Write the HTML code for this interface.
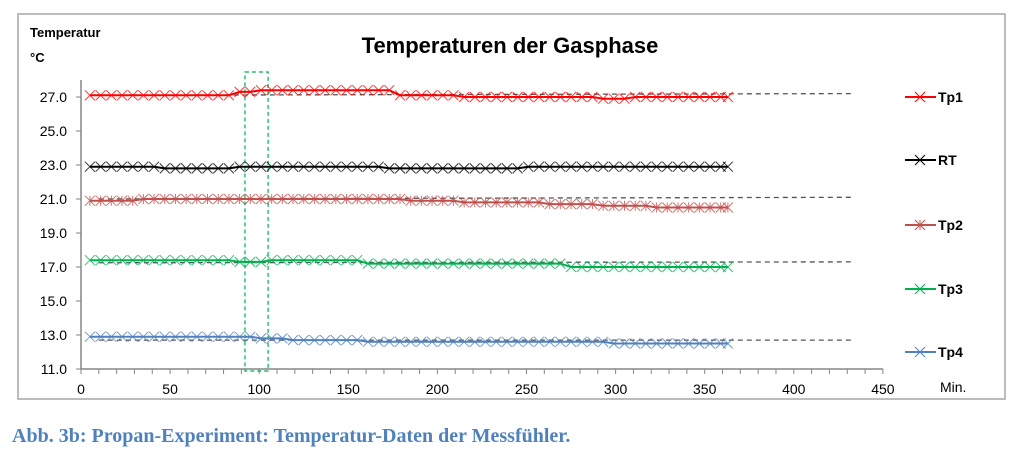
<!DOCTYPE html>
<html><head><meta charset="utf-8"><style>
body{margin:0;background:#fff;width:1033px;height:458px;overflow:hidden}
svg text{font-family:"Liberation Sans","DejaVu Sans",sans-serif}
</style></head><body>
<svg width="1033" height="458" xmlns="http://www.w3.org/2000/svg">
<rect x="18" y="14" width="987" height="385" fill="#fff" stroke="#a6a6a6" stroke-width="1.5"/>
<text x="510" y="53" text-anchor="middle" font-size="22" font-weight="bold">Temperaturen der Gasphase</text>
<text x="30" y="37" font-size="13" font-weight="bold">Temperatur</text>
<text x="30" y="62" font-size="13" font-weight="bold">°C</text>
<text x="940" y="392" font-size="14">Min.</text>
<g id="axes"></g><g id="trends"></g><g id="series"></g><g id="legend"></g>
<text x="12" y="442" font-size="20" font-weight="bold" fill="#4f81bd" style="font-family:'Liberation Serif',serif">Abb. 3b: Propan-Experiment: Temperatur-Daten der Messfühler.</text>
</svg>
<script>
const names=["Tp1","RT","Tp2","Tp3","Tp4"];
const colors=["#ff0000","#000000","#c0504d","#00b050","#4f81bd"];
const yTicks=[11,13,15,17,19,21,23,25,27];
const xTicks=[0,50,100,150,200,250,300,350,400,450];
const times=[5,11,17,23,29,35,41,47,53,59,65,71,77,83,89,95,101,107,113,119,125,131,137,143,149,155,161,167,173,179,185,191,197,203,209,215,221,227,233,239,245,251,257,263,269,275,281,287,293,299,305,311,317,323,329,335,341,347,353,359,363];
const tp1=[27.1,27.1,27.1,27.1,27.1,27.1,27.1,27.1,27.1,27.1,27.1,27.1,27.1,27.1,27.3,27.3,27.4,27.4,27.4,27.4,27.4,27.4,27.4,27.4,27.4,27.4,27.4,27.4,27.4,27.1,27.1,27.1,27.1,27.1,27.1,27.0,27.0,27.0,27.0,27.0,27.0,27.0,27.0,27.0,27.0,27.0,27.0,27.0,26.9,26.9,26.9,27.0,27.0,27.0,27.0,27.0,27.0,27.0,27.0,27.0,27.0];
const rt=[22.9,22.9,22.9,22.9,22.9,22.9,22.9,22.8,22.8,22.8,22.8,22.8,22.8,22.8,22.9,22.9,22.9,22.9,22.9,22.9,22.9,22.9,22.9,22.9,22.9,22.9,22.9,22.9,22.8,22.8,22.8,22.8,22.8,22.8,22.8,22.8,22.8,22.8,22.8,22.8,22.8,22.9,22.9,22.9,22.9,22.9,22.9,22.9,22.9,22.9,22.9,22.9,22.9,22.9,22.9,22.9,22.9,22.9,22.9,22.9,22.9];
const tp2=[20.9,20.9,20.9,20.9,20.9,21.0,21.0,21.0,21.0,21.0,21.0,21.0,21.0,21.0,21.0,21.0,21.0,21.0,21.0,21.0,21.0,21.0,21.0,21.0,21.0,21.0,21.0,21.0,21.0,21.0,20.9,20.9,20.9,20.9,20.9,20.8,20.8,20.8,20.8,20.8,20.8,20.8,20.8,20.7,20.7,20.7,20.7,20.7,20.6,20.6,20.6,20.6,20.6,20.5,20.5,20.5,20.5,20.5,20.5,20.5,20.5];
const tp3=[17.4,17.4,17.4,17.4,17.4,17.4,17.4,17.4,17.4,17.4,17.4,17.4,17.4,17.4,17.3,17.3,17.3,17.4,17.4,17.4,17.4,17.4,17.4,17.4,17.4,17.4,17.2,17.2,17.2,17.2,17.2,17.2,17.2,17.2,17.2,17.2,17.2,17.2,17.2,17.2,17.2,17.2,17.2,17.2,17.2,17.0,17.0,17.0,17.0,17.0,17.0,17.0,17.0,17.0,17.0,17.0,17.0,17.0,17.0,17.0,17.0];
const tp4=[12.9,12.9,12.9,12.9,12.9,12.9,12.9,12.9,12.9,12.9,12.9,12.9,12.9,12.9,12.9,12.9,12.8,12.8,12.8,12.7,12.7,12.7,12.7,12.7,12.7,12.7,12.6,12.6,12.6,12.6,12.6,12.6,12.6,12.6,12.6,12.6,12.6,12.6,12.6,12.6,12.6,12.6,12.6,12.6,12.6,12.6,12.6,12.6,12.6,12.5,12.5,12.5,12.5,12.5,12.5,12.5,12.5,12.5,12.5,12.5,12.5];
const trendStart=[27.1,22.9,21.0,17.25,12.7];
const trendEnd=[27.2,22.9,21.1,17.3,12.7];
const trendX=[10,432];
const series=[tp1,rt,tp2,tp3,tp4];

const NS="http://www.w3.org/2000/svg";
const X=v=>81+v*1.782;
const Y=v=>369-(v-11)*17;
function mk(tag,attrs,parent){const e=document.createElementNS(NS,tag);for(const k in attrs)e.setAttribute(k,attrs[k]);parent.appendChild(e);return e;}
const axes=document.getElementById('axes');
let a=mk('line',{x1:X(0),y1:Y(11),x2:X(0),y2:Y(28),stroke:'#868686','stroke-width':1.5},axes);


a=mk('line',{x1:X(0),y1:Y(11),x2:X(450),y2:Y(11),stroke:'#868686','stroke-width':1.5},axes);


yTicks.forEach(v=>{
 mk('line',{x1:X(0)-5,y1:Y(v),x2:X(0),y2:Y(v),stroke:'#868686'},axes);
 const t=mk('text',{x:X(0)-14,y:Y(v)+5,'text-anchor':'end','font-size':14},axes);t.textContent=v.toFixed(1);
 
 
});
for(let m=0;m<=450;m+=10){mk('line',{x1:X(m),y1:Y(11),x2:X(m),y2:Y(11)+5,stroke:'#868686'},axes);}
xTicks.forEach(v=>{
 const t=mk('text',{x:X(v),y:Y(11)+25,'text-anchor':'middle','font-size':14},axes);t.textContent=v;
 
 
});
const box=mk('rect',{x:X(92),y:72,width:X(105)-X(92),height:Y(11)+2-72,fill:'none',stroke:'#00b050','stroke-dasharray':'4,3','stroke-width':1.2},axes);


const tr=document.getElementById('trends');
trendStart.forEach((s,i)=>{
 if(i===1)return;
 const l=mk('line',{x1:X(trendX[0]),y1:Y(s),x2:X(trendX[1]),y2:Y(trendEnd[i]),stroke:'#555','stroke-width':1.3,'stroke-dasharray':'5,4'},tr);
 
 
});
const sg=document.getElementById('series');
series.forEach((vals,i)=>{
 const g=mk('g',{},sg);
 
 
 const pts=vals.map((v,j)=>X(times[j])+','+Y(v)).join(' ');
 mk('polyline',{points:pts,fill:'none',stroke:colors[i],'stroke-width':2},g);
 vals.forEach((v,j)=>{
  const cx=X(times[j]),cy=Y(v),r=5;
  let d=`M${cx-r},${cy-r}L${cx+r},${cy+r}M${cx-r},${cy+r}L${cx+r},${cy-r}`;
  if(i===2)d+=`M${cx},${cy-r}L${cx},${cy+r}`;
  const p=mk('path',{d:d,stroke:colors[i],'stroke-width':1,fill:'none','stroke-opacity':0.8},g);
  
  
 });
});
const lg=document.getElementById('legend');
const ly=[97,160,225,289,352];
names.forEach((n,i)=>{
 const g=mk('g',{},lg);
 
 
 mk('line',{x1:905,y1:ly[i],x2:936,y2:ly[i],stroke:colors[i],'stroke-width':2},g);
 let d=`M915,${ly[i]-5}L925,${ly[i]+5}M915,${ly[i]+5}L925,${ly[i]-5}`;
 if(i===2)d+=`M920,${ly[i]-5}L920,${ly[i]+5}`;
 mk('path',{d:d,stroke:colors[i],'stroke-width':1},g);
 const t=mk('text',{x:938,y:ly[i]+5,'font-size':14,'font-weight':'bold'},g);t.textContent=n;
});
</script>
</body></html>
